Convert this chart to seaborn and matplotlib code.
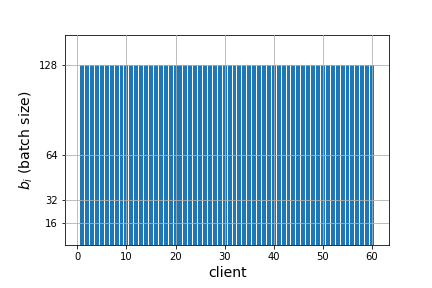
import numpy as np
import pandas as pd
import matplotlib
matplotlib.use('Agg')
import matplotlib.pyplot as plt
import seaborn as sns

# batch size per client
clients = list(range(1, 61))
batch_sizes = [128] * 60
y_ticks = [16, 32, 64, 128]

df = pd.DataFrame({'client': clients, 'batch': batch_sizes})

fig, ax = plt.subplots(figsize=(6, 4), dpi=72)
fig.subplots_adjust(left=0.1505, bottom=0.149, right=0.901, top=0.8785)

sns.barplot(data=df, x='client', y='batch', native_scale=True, color='#1f77b4',
            saturation=1, width=0.8, ax=ax, errorbar=None, zorder=1)

ax.set_xlim(-2.5, 63.5)
ax.set_ylim(0, 149.4)
ax.set_xticks([0, 10, 20, 30, 40, 50, 60])
ax.set_yticks(y_ticks)
ax.grid(True, color='#b0b0b0', linewidth=0.8, zorder=3)
ax.set_axisbelow(False)

ax.set_xlabel('client', fontsize=14)
ax.set_ylabel('$b_i$ (batch size)', fontsize=14)

plt.savefig('out.png', dpi=72)
